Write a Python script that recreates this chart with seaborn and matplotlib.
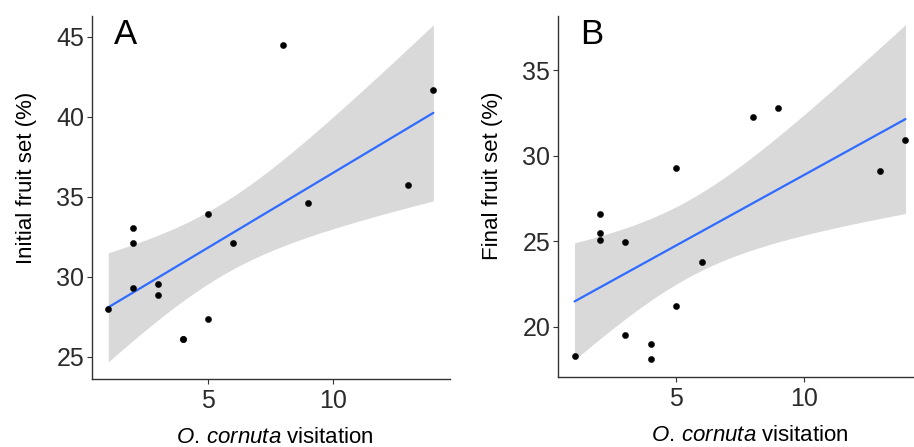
import numpy as np
import pandas as pd
import matplotlib
matplotlib.use("Agg")
import matplotlib.pyplot as plt
import seaborn as sns

# Panel A data: O. cornuta visitation vs initial fruit set (%)
visits_a = [1, 2, 2, 2, 3, 3, 4, 4, 5, 5, 6, 8, 9, 13, 14]
initial_fruit_set = [28.0, 33.06, 32.1, 29.3, 29.55, 28.86, 26.1, 26.1, 33.94,
                     27.34, 32.09, 44.48, 34.63, 35.73, 41.67]

# Panel B data: O. cornuta visitation vs final fruit set (%)
visits_b = [1, 2, 2, 2, 3, 3, 4, 4, 5, 5, 6, 8, 9, 13, 14]
final_fruit_set = [18.27, 26.57, 25.46, 25.1, 24.95, 19.51, 19.0, 18.13, 29.3,
                   21.21, 23.76, 32.26, 32.81, 29.08, 30.93]

panel_letters = ["A", "B"]
y_labels = ["Initial fruit set (%)", "Final fruit set (%)"]
x_label = r"$\it{O.\,cornuta}$ visitation"
y_ticks_a = [25, 30, 35, 40, 45]
y_ticks_b = [20, 25, 30, 35]
x_ticks = [5, 10]

T_975 = {13: 2.160, 12: 2.179, 14: 2.145}

sns.set_style("ticks")
plt.rcParams["font.family"] = ["Liberation Sans", "DejaVu Sans"]
plt.rcParams["mathtext.fontset"] = "custom"
plt.rcParams["mathtext.rm"] = "Liberation Sans"
plt.rcParams["mathtext.it"] = "Liberation Sans:italic"

W, H = 914, 447
fig = plt.figure(figsize=(W / 100, H / 100), dpi=100)

def px_axes(left, right, top, bottom):
    return fig.add_axes([left / W, 1 - bottom / H, (right - left) / W, (bottom - top) / H])

ax_a = px_axes(92, 449.6, 16, 379)
ax_b = px_axes(558, 922, 16, 376.7)

def band(x, y):
    x = np.asarray(x, float)
    y = np.asarray(y, float)
    n = len(x)
    b1, b0 = np.polyfit(x, y, 1)
    resid = y - (b0 + b1 * x)
    s = np.sqrt(np.sum(resid ** 2) / (n - 2))
    xs = np.linspace(x.min(), x.max(), 80)
    se = s * np.sqrt(1 / n + (xs - x.mean()) ** 2 / np.sum((x - x.mean()) ** 2))
    fit = b0 + b1 * xs
    t = T_975[n - 2]
    return xs, fit - t * se, fit + t * se

panels = [
    (ax_a, visits_a, initial_fruit_set, (23.6, 46.3), y_ticks_a, 0.512, 0.554),
    (ax_b, visits_b, final_fruit_set, (17.08, 38.17), y_ticks_b, 0.527, 0.556),
]

for i, (ax, xv, yv, ylim, yt, xlab_pos, ylab_pos) in enumerate(panels):
    df = pd.DataFrame({"x": xv, "y": yv})
    xs, lo, hi = band(xv, yv)
    ax.fill_between(xs, lo, hi, color="#d9d9d9", linewidth=0, zorder=1)
    sns.regplot(data=df, x="x", y="y", ax=ax, ci=None, scatter=False,
                line_kws=dict(color="#2f6bff", linewidth=1.6, zorder=2))
    sns.scatterplot(data=df, x="x", y="y", ax=ax, color="black", s=20,
                    edgecolor="black", linewidth=0.3, zorder=3)
    ax.set_xlim(0.35, 14.65)
    ax.set_ylim(*ylim)
    ax.set_xticks(x_ticks)
    ax.set_yticks(yt)
    ax.tick_params(axis="both", labelsize=18, colors="#333333", labelcolor="#2b2b2b",
                   length=3.5, width=0.8, pad=2)
    ax.tick_params(axis="x", pad=4)
    for side in ["top", "right"]:
        ax.spines[side].set_visible(False)
    for side in ["left", "bottom"]:
        ax.spines[side].set_color("#333333")
        ax.spines[side].set_linewidth(1.0)
    ax.set_xlabel(x_label, fontsize=16, color="black", labelpad=10)
    ax.set_ylabel(y_labels[i], fontsize=16, color="black", labelpad=14)
    ax.xaxis.label.set_x(xlab_pos)
    ax.yaxis.label.set_y(ylab_pos)
    ax.text(0.06, 0.995, panel_letters[i], transform=ax.transAxes, fontsize=25,
            ha="left", va="top", color="black")

fig.savefig("out.png", dpi=100)
